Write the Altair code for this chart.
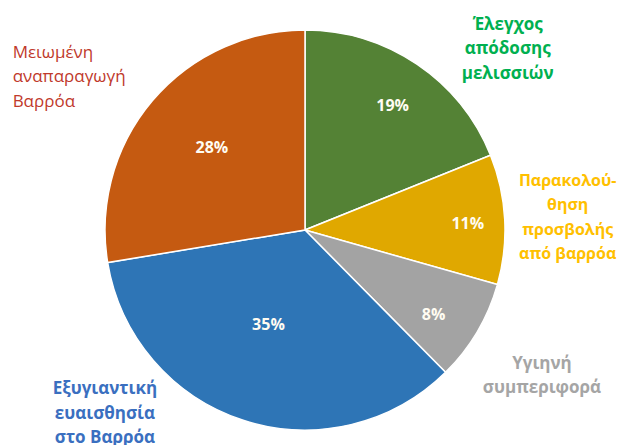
import altair as alt
import pandas as pd

# data (clockwise from top)
categories = ["Έλεγχος απόδοσης μελισσιών", "Παρακολούθηση προσβολής από βαρρόα",
              "Υγιηνή συμπεριφορά", "Εξυγιαντική ευαισθησία στο Βαρρόα",
              "Μειωμένη αναπαραγωγή Βαρρόα"]
values = [18.9, 10.5, 8.2, 34.8, 27.6]
pct_labels = ["19%", "11%", "8%", "35%", "28%"]
label_lines = ["Έλεγχος\nαπόδοσης\nμελισσιών",
               "Παρακολού-\nθηση\nπροσβολής\nαπό βαρρόα",
               "Υγιηνή\nσυμπεριφορά",
               "Εξυγιαντική\nευαισθησία\nστο Βαρρόα",
               "Μειωμένη\nαναπαραγωγή\nΒαρρόα"]

# styles / layout
slice_colors = ["#548235", "#E0A800", "#A3A3A3", "#2E75B6", "#C55A11"]
text_colors = ["#00B050", "#FFC000", "#A5A5A5", "#3A6FC0", "#C0392B"]
inner_cfg = [(153, 2, 3), (163, 0, 3), (154, -4, 7), (102, -5, -2), (126, 3, 0)]  # radius, dx, dy
LH = 24.5
outer_cfg = [  # dx, dy (of block centre), align, weight, size
    (74, 10, "center", "bold", 17),
    (33, 0, "center", "bold", 16),
    (39, 29, "center", "bold", 17),
    (-129, -35, "center", "bold", 17),
    (-117, -4, "left", "normal", 17),
]

df = pd.DataFrame({
    "cat": categories,
    "value": values,
    "pct": pct_labels,
    "label": label_lines,
    "idx": list(range(len(categories))),
})

theta = alt.Theta("value:Q", stack=True)
order = alt.Order("idx:Q", sort="ascending")
base = alt.Chart(df)

arcs = base.mark_arc(outerRadius=200, stroke="white", strokeWidth=1.5).encode(
    theta=theta,
    order=order,
    color=alt.Color("cat:N", scale=alt.Scale(domain=categories, range=slice_colors), legend=None),
)

layers = [arcs]
for i, cat in enumerate(categories):
    r_in, idx_dx, idx_dy = inner_cfg[i]
    layers.append(
        base.mark_text(
            font="Open Sans", fontSize=16, fontWeight="bold", color="#FFFCF2",
            baseline="middle", radius=r_in, dx=idx_dx, dy=idx_dy,
        ).encode(
            theta=theta,
            order=order,
            text=alt.condition(alt.datum.cat == cat, alt.Text("pct:N"), alt.value("")),
        )
    )
    dx, dy, align, weight, size = outer_cfg[i]
    n_lines = label_lines[i].count("\n") + 1
    layers.append(
        base.mark_text(
            font="Open Sans", fontSize=size, fontWeight=weight, color=text_colors[i],
            align=align, baseline="middle", lineBreak="\n", lineHeight=LH,
            dx=dx, dy=dy - (n_lines - 1) * LH / 2, radius=230,
        ).encode(
            theta=theta,
            order=order,
            text=alt.condition(alt.datum.cat == cat, alt.Text("label:N"), alt.value("")),
        )
    )

chart = alt.layer(*layers).properties(
    width=594, height=430,
    padding={"left": 0, "top": 7, "right": 17, "bottom": 0},
    autosize=alt.AutoSizeParams(type="none"),
).configure_view(stroke=None)

chart.save("out.html", embed_options={"renderer": "svg", "actions": False})
